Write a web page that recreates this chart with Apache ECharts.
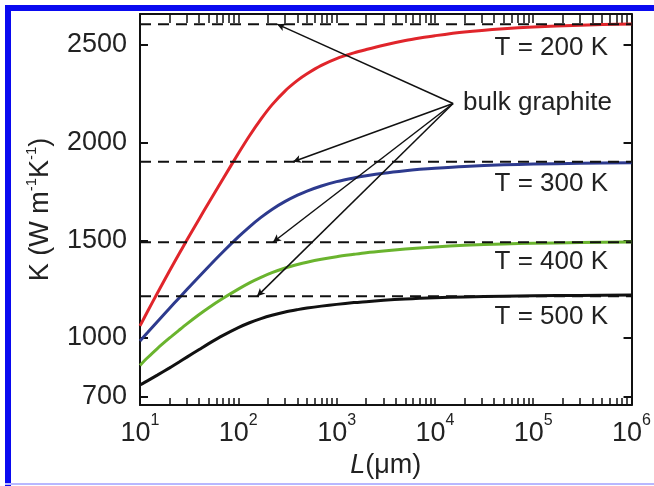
<!DOCTYPE html>
<html><head><meta charset="utf-8">
<script src="https://cdn.jsdelivr.net/npm/echarts@6/dist/echarts.min.js"></script>
<style>html,body{margin:0;padding:0;background:#fff}#c{width:654px;height:486px}</style>
</head><body><div id="c"></div>
<script>
// L in micrometres
const L = [10,12,15,20,25,30,40,50,70,100,130,170,220,300,400,500,700,1000,1500,2000,3000,5000,7000,10000,20000,50000,100000,300000,1000000];
const K200 = [1062,1138,1229,1344,1431,1501,1609,1692,1815,1944,2035,2120,2193,2265,2318,2352,2395,2430,2459,2476,2498,2522,2535,2547,2566,2583,2592,2601,2607];
const K300 = [985,1029,1083,1152,1205,1248,1315,1366,1441,1517,1569,1617,1658,1699,1731,1752,1778,1800,1819,1830,1843,1856,1863,1869,1878,1886,1890,1894,1897];
const K400 = [860,900,946,1000,1040,1072,1120,1155,1203,1250,1282,1310,1334,1358,1376,1388,1403,1416,1428,1436,1445,1455,1461,1466,1474,1481,1485,1488,1491];
const K500 = [760,782,810,847,877,902,941,971,1013,1053,1078,1099,1116,1133,1145,1153,1163,1172,1181,1186,1193,1200,1203,1206,1210,1214,1216,1218,1220];
const bulk = [2606,1902,1490,1213];
const tempLabels = ['T = 200 K','T = 300 K','T = 400 K','T = 500 K'];
const arrowL = [248,360,225,155];
const apex = [15300,2200];
const yTicks = [700,1000,1500,2000,2500];
const xLabelVals = [10,100,1000,10000,100000,1000000];
const xTickVals = [10,20,30,40,50,60,70,80,90,100,200,300,400,500,600,700,800,900,
  1000,2000,3000,4000,5000,6000,7000,8000,9000,10000,20000,30000,40000,50000,60000,70000,80000,90000,
  100000,200000,300000,400000,500000,600000,700000,800000,900000,1000000];

const colors = ['#e0252b','#2d3a8e','#6ab42e','#111111'];
const curves = [K200,K300,K400,K500];
const FONT = 'Liberation Sans, Arial, sans-serif';

const chart = echarts.init(document.getElementById('c'), null, {renderer:'canvas'});
const series = [];
curves.forEach((c,i)=>{
  series.push({type:'line', smooth:0.3, showSymbol:false, data:L.map((l,j)=>[l,c[j]]),
    lineStyle:{color:colors[i], width:3}, z:2, silent:true});
});
bulk.forEach((b)=>{
  series.push({type:'line', showSymbol:false, data:[[L[0],b],[L[L.length-1],b]],
    lineStyle:{color:'#111', width:2, type:[11,7]}, z:3, silent:true});
});
series.push({type:'line', data:[], silent:true,
  markLine:{silent:true, symbol:['none','arrow'], symbolSize:[6,8], animation:false,
    lineStyle:{color:'#111', width:1.5, type:'solid'}, label:{show:false},
    data: arrowL.map((l,i)=>[{coord:apex},{coord:[l,bulk[i]]}])}});

const xAxisBase = {type:'log', logBase:10, min:10, max:1000000,
  axisLine:{show:true, onZero:false, lineStyle:{color:'#111', width:2}},
  splitLine:{show:false}, minorTick:{show:false}};
const yAxisBase = {type:'value', min:657, max:2658,
  axisLine:{show:true, lineStyle:{color:'#111', width:2}},
  splitLine:{show:false}};

chart.setOption({
  animation:false,
  backgroundColor:'#fff',
  grid:{left:140, right:22, top:14, bottom:81},
  xAxis:[
    Object.assign({}, xAxisBase, {position:'bottom',
      axisTick:{show:true, inside:true, length:7, customValues:xTickVals, lineStyle:{color:'#111', width:1.5}},
      axisLabel:{show:true, customValues:xLabelVals, margin:8, color:'#222',
        formatter:(v)=>'{b|10}{s|'+Math.round(Math.log10(v))+'}',
        rich:{b:{fontSize:27, fontFamily:FONT, color:'#222', lineHeight:34, verticalAlign:'bottom'},
              s:{fontSize:16, fontFamily:FONT, color:'#222', lineHeight:16, verticalAlign:'top'}}},
      name:'{i|L}{n|(μm)}', nameLocation:'middle', nameGap:47,
      nameTextStyle:{rich:{i:{fontSize:27, fontStyle:'italic', fontFamily:FONT, color:'#222'},
                           n:{fontSize:27, fontFamily:FONT, color:'#222'}}}}),
    Object.assign({}, xAxisBase, {position:'top',
      axisTick:{show:true, inside:true, length:9, customValues:xTickVals, lineStyle:{color:'#111', width:1.5}},
      axisLabel:{show:false}})
  ],
  yAxis:[
    Object.assign({}, yAxisBase, {position:'left',
      axisTick:{show:true, inside:true, length:8, customValues:yTicks, lineStyle:{color:'#111', width:2}},
      axisLabel:{show:true, customValues:yTicks, margin:13, fontSize:27, fontFamily:FONT, color:'#222',
        formatter:(v)=>String(v)},
      name:'{t|K (W m}{s|-1}{t|K}{s|-1}{t|)}', nameLocation:'middle', nameGap:86, nameRotate:90,
      nameTextStyle:{rich:{t:{fontSize:27, fontFamily:FONT, color:'#222', lineHeight:30, verticalAlign:'bottom'},
                           s:{fontSize:15, fontFamily:FONT, color:'#222', lineHeight:15, verticalAlign:'top'}}}}),
    Object.assign({}, yAxisBase, {position:'right',
      axisTick:{show:true, inside:true, length:8, customValues:yTicks, lineStyle:{color:'#111', width:2}},
      axisLabel:{show:false}})
  ],
  series: series,
  graphic:[
    {type:'rect', shape:{x:5, y:5, width:649, height:6}, style:{fill:'#0a0af0'}, z:100},
    {type:'rect', shape:{x:5, y:5, width:6, height:481}, style:{fill:'#0a0af0'}, z:100},
    {type:'rect', shape:{x:5, y:483, width:649, height:2}, style:{fill:'#b8b8ff'}, z:100},
    {type:'text', x:608, y:48, style:{text:tempLabels[0], font:'26px '+FONT, fill:'#222', textAlign:'right', textVerticalAlign:'middle'}, z:50},
    {type:'text', x:608, y:184, style:{text:tempLabels[1], font:'26px '+FONT, fill:'#222', textAlign:'right', textVerticalAlign:'middle'}, z:50},
    {type:'text', x:608, y:262, style:{text:tempLabels[2], font:'26px '+FONT, fill:'#222', textAlign:'right', textVerticalAlign:'middle'}, z:50},
    {type:'text', x:608, y:317, style:{text:tempLabels[3], font:'26px '+FONT, fill:'#222', textAlign:'right', textVerticalAlign:'middle'}, z:50},
    {type:'text', x:463, y:103, style:{text:'bulk graphite', font:'26px '+FONT, fill:'#222', textAlign:'left', textVerticalAlign:'middle'}, z:50}
  ]
});
</script></body></html>
